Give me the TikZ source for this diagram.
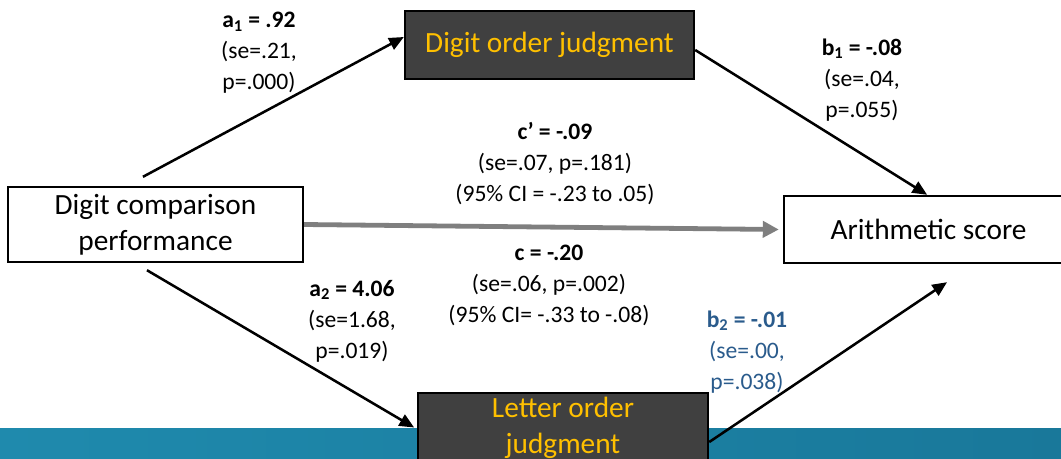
\documentclass[tikz,border=0pt]{standalone}
\usepackage{fontspec}
\setmainfont{Carlito}
\usetikzlibrary{arrows.meta}
\definecolor{boxgray}{HTML}{404040}
\definecolor{gold}{HTML}{FFC000}
\definecolor{pathgray}{HTML}{7F7F7F}
\definecolor{pathblue}{HTML}{2A5B8C}
\definecolor{bandleft}{HTML}{1F8AAD}
\definecolor{bandright}{HTML}{19789A}
\tikzset{
  varbox/.style={draw=black, line width=1.8pt, fill=white, align=center,
    font=\fontsize{22}{27}\selectfont, inner sep=0pt},
  medbox/.style={varbox, fill=boxgray, text=gold},
  coef/.style={align=center, font=\fontsize{17.7}{23.25}\selectfont, inner sep=0pt},
  path/.style={draw=black, line width=1.9pt, -{Triangle[length=11pt,width=9.5pt]}},
  direct/.style={draw=pathgray, line width=3.6pt, -{Triangle[length=12pt,width=12pt]}}
}
\begin{document}
\begin{tikzpicture}[x=0.75pt,y=-0.75pt]
\useasboundingbox (0,0) rectangle (1061,458);
\clip (0,0) rectangle (1061,458);
% footer band
\shade[left color=bandleft, right color=bandright] (0,428) rectangle (1061,458);

% variables
\node[varbox, minimum width=221.25pt, minimum height=56.25pt] (dcp) at (155.5,224.5)
  {Digit comparison\\performance};
\node[medbox, minimum width=216.75pt, minimum height=51pt] (dor) at (549.5,45)
  {Digit order judgment};
\node[varbox, minimum width=216.75pt, minimum height=50.25pt] (ari) at (928.5,229.5)
  {Arithmetic score};
\node[medbox, minimum width=217.5pt, minimum height=51.75pt] (lor) at (563,427.5)
  {Letter order\\judgment};

% paths
\draw[path] ([xshift=-9.4pt,yshift=6.75pt]dcp.north) -- ([yshift=6pt]dor.west);
\draw[path] ([yshift=-3.75pt]dor.east) -- ([xshift=-1pt]ari.north);
\draw[direct] (dcp.east) -- ([xshift=-3pt]ari.west);
\draw[path] ([xshift=-6.4pt,yshift=-5.25pt]dcp.south) -- ([xshift=-2pt]lor.west);
\coordinate (b2end) at ([xshift=13.9pt,yshift=-13.5pt]ari.south);
\draw[path] ([yshift=-10.9pt]lor.east) -- (b2end);

% coefficients
\node[coef] (la1) at (259,53) {\textbf{a\textsubscript{1} = .92}\\(se=.21,\\p=.000)};
\node[coef] (lb1) at (862,80) {\textbf{b\textsubscript{1} = -.08}\\(se=.04,\\p=.055)};
\node[coef] (lcp) at (555,164) {\textbf{c’ = -.09}\\(se=.07, p=.181)\\(95\% CI = -.23 to .05)};
\node[coef] (lc) at (549,285) {\textbf{c = -.20}\\(se=.06, p=.002)\\(95\% CI= -.33 to -.08)};
\node[coef] (la2) at (352,321) {\textbf{a\textsubscript{2} = 4.06}\\(se=1.68,\\p=.019)};
\node[coef, text=pathblue] (lb2) at (747,352) {\textbf{b\textsubscript{2} = -.01}\\(se=.00,\\p=.038)};
\end{tikzpicture}
\end{document}
